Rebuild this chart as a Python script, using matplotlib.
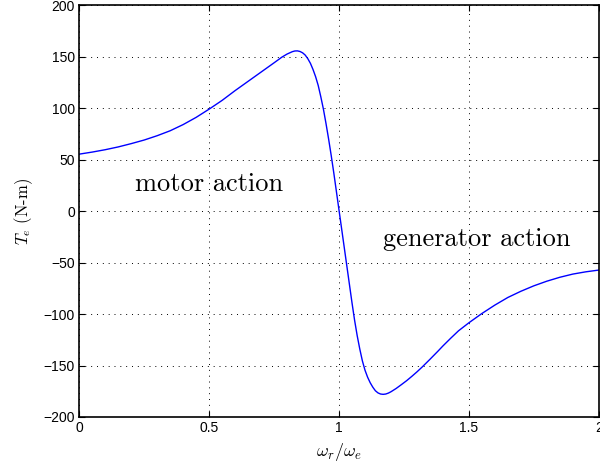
import numpy as np
import matplotlib
matplotlib.use("Agg")
import matplotlib.pyplot as plt

plt.rcParams['mathtext.fontset'] = 'cm'
plt.rcParams['font.family'] = ['Liberation Sans', 'DejaVu Sans']

# speed ratio wr/we and electromagnetic torque (N-m)
speed = [0.00, 0.05, 0.10, 0.15, 0.20, 0.25, 0.30, 0.35, 0.40, 0.45,
         0.50, 0.55, 0.60, 0.65, 0.70, 0.75, 0.78, 0.80, 0.82, 0.83,
         0.84, 0.85, 0.86, 0.87, 0.88, 0.89, 0.90, 0.91, 0.92, 0.93,
         0.94, 0.95, 0.96, 0.97, 0.98, 0.99, 1.00, 1.01, 1.02, 1.03,
         1.04, 1.05, 1.06, 1.07, 1.08, 1.09, 1.10, 1.11, 1.12, 1.13,
         1.14, 1.15, 1.16, 1.17, 1.18, 1.19, 1.20, 1.22, 1.24, 1.26,
         1.28, 1.30, 1.32, 1.35, 1.38, 1.40, 1.43, 1.46, 1.50, 1.55,
         1.60, 1.65, 1.70, 1.75, 1.80, 1.85, 1.90, 1.95, 2.00]
torque = [55.3, 57.3, 59.6, 62.3, 65.5, 69.0, 73.2, 78.0, 84.0, 91.0,
          99.0, 107.5, 117.0, 126.0, 135.0, 144.0, 149.5, 152.5, 154.8, 155.5,
          155.6, 155.0, 153.7, 151.5, 148.0, 143.5, 137.5, 130.5, 122.0, 111.0,
          99.0, 85.0, 70.0, 54.0, 37.0, 19.0, 1.0, -17.0, -35.0, -53.0,
          -71.0, -89.0, -106.0, -121.0, -134.0, -145.5, -154.5, -161.3, -166.7, -171.0,
          -174.5, -176.6, -177.7, -178.0, -177.7, -176.8, -175.5, -172.3, -168.6, -164.8,
          -160.6, -156.2, -151.5, -144.0, -136.3, -131.0, -123.5, -116.3, -108.5, -99.5,
          -91.3, -83.9, -77.9, -72.6, -68.1, -64.3, -61.2, -59.0, -57.3]

fig = plt.figure(figsize=(6, 4.7), dpi=100)
ax = fig.add_axes([0.132, 0.1128, 0.866, 0.8762])

ax.plot(speed, torque, color='#0000ff', lw=1.0)

ax.set_xlim(0, 2)
ax.set_ylim(-200, 200)
ax.set_xticks([0, 0.5, 1, 1.5, 2])
ax.set_xticklabels(['0', '0.5', '1', '1.5', '2'])
ax.set_yticks(np.arange(-200, 201, 50))

ax.grid(True, color='black', linestyle=(0, (1, 5)), linewidth=0.7)
ax.tick_params(direction='in', length=4, width=0.8, top=True, right=True,
               labelsize=10, pad=3)
for s in ax.spines.values():
    s.set_linewidth(1.2)

ax.set_xlabel(r'$\omega_r/\omega_e$', fontsize=13, labelpad=4)
ax.set_ylabel(r'$T_e$ (N-m)', fontsize=12, fontfamily='cmr10', labelpad=6)

ax.text(0.215, 26, 'motor action', fontfamily='cmr10', fontsize=19,
        va='center', ha='left')
ax.text(1.169, -27, 'generator action', fontfamily='cmr10', fontsize=19,
        va='center', ha='left')

fig.savefig('out.png', dpi=100)
